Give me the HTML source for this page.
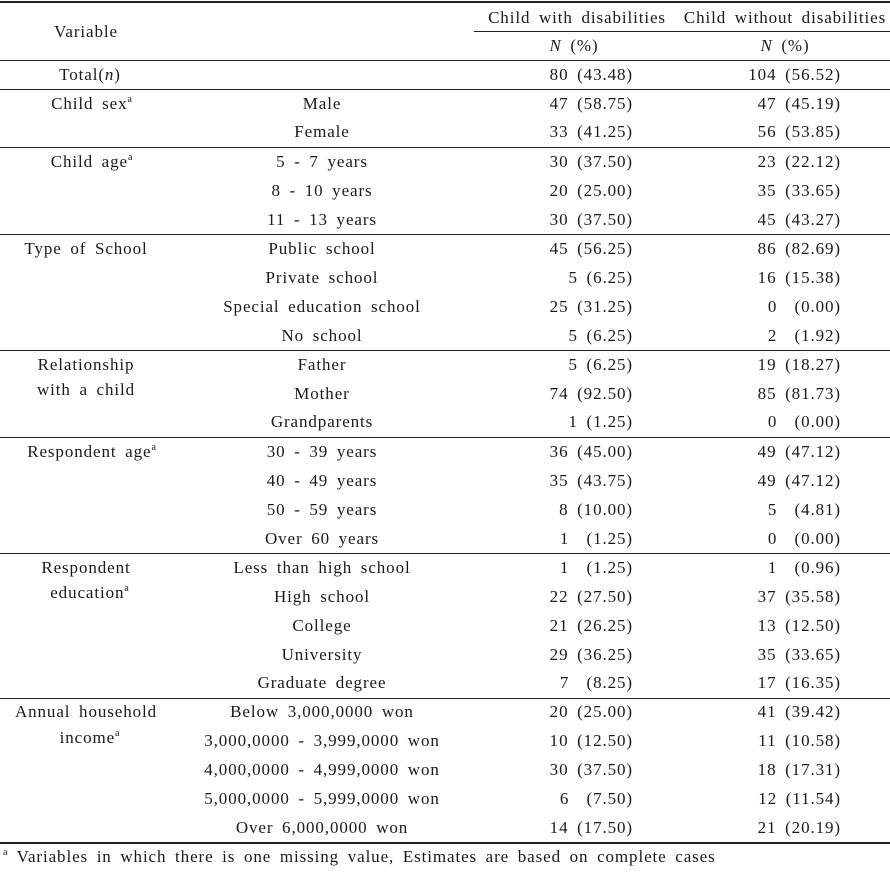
<!DOCTYPE html>
<html><head><meta charset="utf-8"><style>
body{margin:0;background:#fff;}
#w{position:relative;width:890px;height:881px;font-family:"Liberation Serif","Noto Serif CJK SC",serif;font-size:17px;letter-spacing:0.9px;word-spacing:3.5px;color:#1a1a1a;overflow:hidden}
#w div{position:absolute;white-space:nowrap;line-height:20px;height:20px}
.a{left:0;width:172px;text-align:center}
.b{left:172px;width:300px;text-align:center}
.c{left:470px;width:163px;text-align:right}
.d{left:680px;width:161px;text-align:right}
.l{left:0;width:890px;height:1px!important;background:#222}
sup{font-size:10px;vertical-align:7px;line-height:0}
</style></head><body><div id="w">
<div class="l" style="top:1px;height:2px!important"></div>
<div class="a" style="top:22px">Variable</div>
<div style="left:474px;width:206px;text-align:center;top:8px">Child with disabilities</div>
<div style="left:680px;width:210px;text-align:center;top:8px">Child without disabilities</div>
<div style="left:474px;width:416px;height:1px!important;background:#222;top:31px"></div>
<div style="left:474px;width:200px;text-align:center;top:36px"><i>N</i> (%)</div>
<div style="left:680px;width:210px;text-align:center;top:36px"><i>N</i> (%)</div>
<div class="l" style="top:60px"></div>
<div class="a" style="top:65px;left:4px">Total(<i>n</i>)</div><div class="c" style="top:65px">80 (43.48)</div><div class="d" style="top:65px">104 (56.52)</div>
<div class="l" style="top:89px"></div>
<div class="a" style="top:94px;left:6px">Child sex<sup>a</sup></div><div class="b" style="top:94px">Male</div><div class="c" style="top:94px">47 (58.75)</div><div class="d" style="top:94px">47 (45.19)</div>
<div class="b" style="top:122px">Female</div><div class="c" style="top:122px">33 (41.25)</div><div class="d" style="top:122px">56 (53.85)</div>
<div class="l" style="top:147px"></div>
<div class="a" style="top:152px;left:6px">Child age<sup>a</sup></div><div class="b" style="top:152px">5 - 7 years</div><div class="c" style="top:152px">30 (37.50)</div><div class="d" style="top:152px">23 (22.12)</div>
<div class="b" style="top:181px">8 - 10 years</div><div class="c" style="top:181px">20 (25.00)</div><div class="d" style="top:181px">35 (33.65)</div>
<div class="b" style="top:210px">11 - 13 years</div><div class="c" style="top:210px">30 (37.50)</div><div class="d" style="top:210px">45 (43.27)</div>
<div class="l" style="top:234px"></div>
<div class="a" style="top:239px">Type of School</div><div class="b" style="top:239px">Public school</div><div class="c" style="top:239px">45 (56.25)</div><div class="d" style="top:239px">86 (82.69)</div>
<div class="b" style="top:268px">Private school</div><div class="c" style="top:268px">5 (6.25)</div><div class="d" style="top:268px">16 (15.38)</div>
<div class="b" style="top:297px">Special education school</div><div class="c" style="top:297px">25 (31.25)</div><div class="d" style="top:297px">0 &nbsp;(0.00)</div>
<div class="b" style="top:326px">No school</div><div class="c" style="top:326px">5 (6.25)</div><div class="d" style="top:326px">2 &nbsp;(1.92)</div>
<div class="l" style="top:350px"></div>
<div class="a" style="top:355px">Relationship</div><div class="a" style="top:380px">with a child</div><div class="b" style="top:355px">Father</div><div class="c" style="top:355px">5 (6.25)</div><div class="d" style="top:355px">19 (18.27)</div>
<div class="b" style="top:384px">Mother</div><div class="c" style="top:384px">74 (92.50)</div><div class="d" style="top:384px">85 (81.73)</div>
<div class="b" style="top:412px">Grandparents</div><div class="c" style="top:412px">1 (1.25)</div><div class="d" style="top:412px">0 &nbsp;(0.00)</div>
<div class="l" style="top:437px"></div>
<div class="a" style="top:442px;left:6px">Respondent age<sup>a</sup></div><div class="b" style="top:442px">30 - 39 years</div><div class="c" style="top:442px">36 (45.00)</div><div class="d" style="top:442px">49 (47.12)</div>
<div class="b" style="top:471px">40 - 49 years</div><div class="c" style="top:471px">35 (43.75)</div><div class="d" style="top:471px">49 (47.12)</div>
<div class="b" style="top:500px">50 - 59 years</div><div class="c" style="top:500px">8 (10.00)</div><div class="d" style="top:500px">5 &nbsp;(4.81)</div>
<div class="b" style="top:529px">Over 60 years</div><div class="c" style="top:529px">1 &nbsp;(1.25)</div><div class="d" style="top:529px">0 &nbsp;(0.00)</div>
<div class="l" style="top:553px"></div>
<div class="a" style="top:558px">Respondent</div><div class="a" style="top:583px;left:4px">education<sup>a</sup></div><div class="b" style="top:558px">Less than high school</div><div class="c" style="top:558px">1 &nbsp;(1.25)</div><div class="d" style="top:558px">1 &nbsp;(0.96)</div>
<div class="b" style="top:587px">High school</div><div class="c" style="top:587px">22 (27.50)</div><div class="d" style="top:587px">37 (35.58)</div>
<div class="b" style="top:616px">College</div><div class="c" style="top:616px">21 (26.25)</div><div class="d" style="top:616px">13 (12.50)</div>
<div class="b" style="top:645px">University</div><div class="c" style="top:645px">29 (36.25)</div><div class="d" style="top:645px">35 (33.65)</div>
<div class="b" style="top:673px">Graduate degree</div><div class="c" style="top:673px">7 &nbsp;(8.25)</div><div class="d" style="top:673px">17 (16.35)</div>
<div class="l" style="top:698px"></div>
<div class="a" style="top:702px">Annual household</div><div class="a" style="top:728px;left:4px">income<sup>a</sup></div><div class="b" style="top:702px">Below 3,000,0000 won</div><div class="c" style="top:702px">20 (25.00)</div><div class="d" style="top:702px">41 (39.42)</div>
<div class="b" style="top:731px">3,000,0000 - 3,999,0000 won</div><div class="c" style="top:731px">10 (12.50)</div><div class="d" style="top:731px">11 (10.58)</div>
<div class="b" style="top:760px">4,000,0000 - 4,999,0000 won</div><div class="c" style="top:760px">30 (37.50)</div><div class="d" style="top:760px">18 (17.31)</div>
<div class="b" style="top:789px">5,000,0000 - 5,999,0000 won</div><div class="c" style="top:789px">6 &nbsp;(7.50)</div><div class="d" style="top:789px">12 (11.54)</div>
<div class="b" style="top:818px">Over 6,000,0000 won</div><div class="c" style="top:818px">14 (17.50)</div><div class="d" style="top:818px">21 (20.19)</div>
<div class="l" style="top:842px;height:2px!important"></div>
<div style="left:3px;top:847px"><sup>a</sup> Variables in which there is one missing value, Estimates are based on complete cases</div>
</div></body></html>
